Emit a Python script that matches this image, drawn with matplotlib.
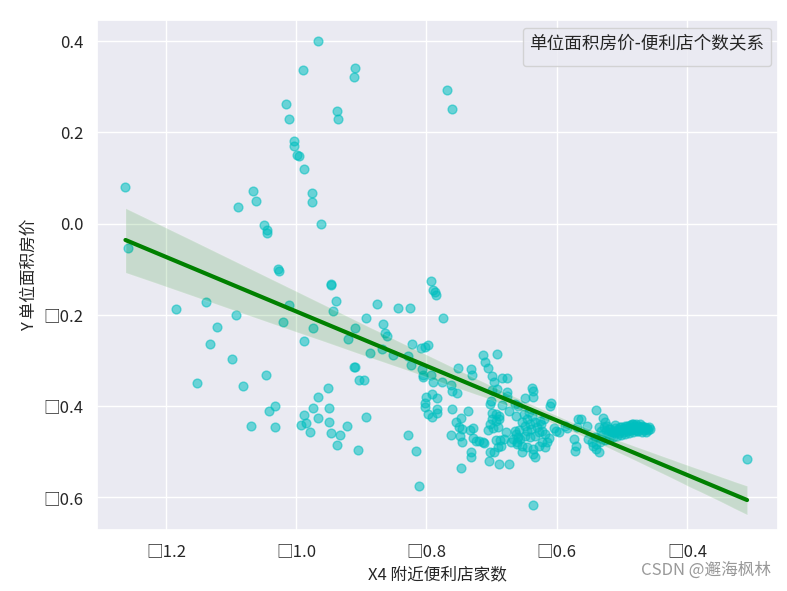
import numpy as np
import matplotlib
matplotlib.use('Agg')
import matplotlib.pyplot as plt
from matplotlib.ticker import FuncFormatter
import seaborn as sns

# X4 附近便利店家数 / Y 单位面积房价
x4 = [-1.262, -1.258, -1.066, -1.062, -1.089, -1.049, -1.045, -1.045, -1.028, -1.026,
      -1.185, -1.139, -1.092, -1.122, -1.132, -1.099, -1.152, -1.082, -1.047, -1.032,
      -1.042, -1.070, -1.032, -1.011, -1.020, -0.988, -0.974, -0.988, -0.992, -0.985,
      -0.979, -0.974, -0.988, -0.976, -0.976, -0.967, -0.990, -0.909, -0.911, -1.016,
      -1.011, -0.937, -0.936, -0.768, -0.761, -1.003, -1.003, -0.998, -0.996, -0.962,
      -0.947, -0.946, -0.939, -0.943, -0.876, -0.844, -0.826, -0.893, -0.866, -0.863,
      -0.861, -0.910, -0.920, -0.886, -0.869, -0.852, -0.822, -0.809, -0.803, -0.798,
      -0.824, -0.828, -0.807, -0.806, -0.805, -0.911, -0.910, -0.903, -0.896, -0.951,
      -0.966, -0.949, -0.966, -0.949, -0.947, -0.932, -0.922, -0.937, -0.905, -0.893,
      -0.828, -0.816, -0.800, -0.803, -0.803, -0.797, -0.793, -0.790, -0.787, -0.786,
      -0.775, -0.793, -0.790, -0.776, -0.751, -0.732, -0.730, -0.713, -0.710, -0.706,
      -0.692, -0.763, -0.761, -0.753, -0.792, -0.784, -0.784, -0.784, -0.792, -0.761,
      -0.736, -0.812, -0.755, -0.747, -0.750, -0.746, -0.745, -0.748, -0.763, -0.733,
      -0.729, -0.728, -0.724, -0.719, -0.713, -0.711, -0.732, -0.732, -0.747, -0.700,
      -0.696, -0.699, -0.692, -0.684, -0.676, -0.703, -0.701, -0.684, -0.674, -0.676,
      -0.676, -0.699, -0.693, -0.689, -0.699, -0.694, -0.688, -0.702, -0.691, -0.698,
      -0.705, -0.678, -0.694, -0.687, -0.681, -0.703, -0.696, -0.691, -0.686, -0.704,
      -0.689, -0.674, -0.671, -0.664, -0.660, -0.661, -0.662, -0.638, -0.637, -0.636,
      -0.649, -0.609, -0.611, -0.664, -0.659, -0.651, -0.643, -0.638, -0.646, -0.654,
      -0.649, -0.641, -0.633, -0.626, -0.620, -0.631, -0.623, -0.618, -0.633, -0.641,
      -0.649, -0.656, -0.667, -0.661, -0.654, -0.646, -0.636, -0.628, -0.623, -0.618,
      -0.615, -0.654, -0.636, -0.633, -0.636, -0.602, -0.597, -0.587, -0.584, -0.567,
      -0.569, -0.574, -0.572, -0.571, -0.563, -0.553, -0.540, -0.529, -0.526, -0.523,
      -0.533, -0.540, -0.552, -0.546, -0.544, -0.540, -0.536, -0.541, -0.530, -0.524,
      -0.518, -0.512, -0.506, -0.501, -0.497, -0.492, -0.487, -0.483, -0.478, -0.473,
      -0.469, -0.464, -0.460, -0.463, -0.470, -0.477, -0.483, -0.489, -0.495, -0.501,
      -0.507, -0.514, -0.520, -0.526, -0.503, -0.490, -0.480, -0.515, -0.484, -0.466,
      -0.308,
      -0.528, -0.522, -0.517, -0.511, -0.509, -0.505, -0.503, -0.499, -0.497, -0.494,
      -0.491, -0.488, -0.486, -0.482, -0.479, -0.476, -0.474, -0.472, -0.468, -0.465,
      -0.462, -0.459, -0.457, -0.475, -0.485, -0.495, -0.510, -0.520, -0.532, -0.536,
      -0.645, -0.640, -0.628, -0.658, -0.663, -0.625, -0.612, -0.605]
y = [0.081, -0.053, 0.072, 0.050, 0.037, -0.004, -0.015, -0.020, -0.100, -0.103,
     -0.187, -0.173, -0.201, -0.226, -0.265, -0.296, -0.349, -0.356, -0.331, -0.400,
     -0.411, -0.443, -0.446, -0.179, -0.215, -0.257, -0.228, -0.419, -0.441, -0.438,
     -0.457, -0.404, 0.119, 0.066, 0.048, 0.400, 0.336, 0.342, 0.322, 0.262,
     0.229, 0.246, 0.229, 0.292, 0.251, 0.180, 0.169, 0.150, 0.149, -0.002,
     -0.133, -0.135, -0.169, -0.192, -0.177, -0.185, -0.185, -0.207, -0.221, -0.239,
     -0.246, -0.229, -0.252, -0.283, -0.276, -0.288, -0.265, -0.273, -0.271, -0.267,
     -0.311, -0.291, -0.318, -0.333, -0.337, -0.314, -0.315, -0.344, -0.342, -0.361,
     -0.380, -0.405, -0.426, -0.435, -0.460, -0.463, -0.444, -0.485, -0.496, -0.424,
     -0.463, -0.499, -0.381, -0.393, -0.403, -0.417, -0.125, -0.145, -0.151, -0.156,
     -0.207, -0.331, -0.347, -0.348, -0.317, -0.319, -0.332, -0.289, -0.304, -0.317,
     -0.286, -0.353, -0.367, -0.372, -0.374, -0.382, -0.407, -0.415, -0.424, -0.407,
     -0.410, -0.575, -0.435, -0.426, -0.446, -0.451, -0.479, -0.465, -0.463, -0.452,
     -0.449, -0.470, -0.476, -0.477, -0.479, -0.481, -0.501, -0.512, -0.536, -0.334,
     -0.348, -0.364, -0.362, -0.338, -0.338, -0.395, -0.388, -0.398, -0.410, -0.369,
     -0.377, -0.415, -0.417, -0.421, -0.428, -0.432, -0.428, -0.439, -0.446, -0.448,
     -0.452, -0.456, -0.474, -0.474, -0.472, -0.500, -0.500, -0.489, -0.487, -0.520,
     -0.528, -0.528, -0.479, -0.455, -0.468, -0.479, -0.421, -0.361, -0.368, -0.380,
     -0.383, -0.393, -0.400, -0.395, -0.401, -0.417, -0.413, -0.421, -0.428, -0.434,
     -0.443, -0.439, -0.435, -0.432, -0.428, -0.446, -0.454, -0.461, -0.465, -0.468,
     -0.465, -0.472, -0.472, -0.483, -0.487, -0.490, -0.494, -0.487, -0.479, -0.490,
     -0.479, -0.501, -0.505, -0.512, -0.618, -0.454, -0.456, -0.444, -0.449, -0.428,
     -0.446, -0.472, -0.498, -0.487, -0.429, -0.443, -0.408, -0.426, -0.434, -0.443,
     -0.479, -0.483, -0.472, -0.479, -0.487, -0.494, -0.501, -0.468, -0.463, -0.454,
     -0.450, -0.454, -0.450, -0.446, -0.448, -0.443, -0.441, -0.439, -0.439, -0.439,
     -0.443, -0.450, -0.452, -0.457, -0.457, -0.454, -0.457, -0.459, -0.461, -0.463,
     -0.465, -0.468, -0.472, -0.474, -0.454, -0.450, -0.448, -0.461, -0.450, -0.452,
     -0.517,
     -0.445, -0.460, -0.458, -0.448, -0.456, -0.460, -0.446, -0.452, -0.457, -0.449,
     -0.455, -0.446, -0.453, -0.444, -0.452, -0.443, -0.449, -0.445, -0.447, -0.445,
     -0.448, -0.446, -0.450, -0.455, -0.440, -0.443, -0.441, -0.450, -0.455, -0.447,
     -0.455, -0.450, -0.458, -0.452, -0.462, -0.440, -0.470, -0.448]

sns.set_theme(style='darkgrid')
plt.rcParams['font.family'] = ['Noto Sans CJK SC', 'DejaVu Sans']
plt.rcParams['axes.unicode_minus'] = False

fig = plt.figure(figsize=(7.87, 5.91), dpi=100)
ax = fig.add_axes([0.123, 0.103, 0.866, 0.863])

sns.regplot(x=np.array(x4), y=np.array(y), ax=ax, color='#008000', seed=1,
            scatter_kws={'s': 40, 'alpha': 0.55, 'color': '#00bfbf',
                         'edgecolors': 'face', 'linewidths': 1},
            line_kws={'color': '#008000', 'lw': 3})

ax.set_xlim(-1.306, -0.260)
ax.set_ylim(-0.672, 0.446)
ax.set_xticks([-1.2, -1.0, -0.8, -0.6, -0.4])
ax.set_yticks([-0.6, -0.4, -0.2, 0.0, 0.2, 0.4])
# the original font had no minus glyph, so it shows a box
fmt = FuncFormatter(lambda v, p: '{:.1f}'.format(v).replace('-', '\u25a1'))
ax.xaxis.set_major_formatter(fmt)
ax.yaxis.set_major_formatter(fmt)
ax.tick_params(labelsize=12)
ax.set_xlabel('X4 附近便利店家数', fontsize=12)
ax.set_ylabel('Y 单位面积房价', fontsize=12)
ax.legend(handles=[], title='单位面积房价-便利店个数关系', loc='upper right',
          title_fontsize=12.7)

fig.text(0.98, 0.02, 'CSDN @邂海枫林', ha='right', va='bottom', fontsize=12, color='#999999')

plt.savefig('out.png')
